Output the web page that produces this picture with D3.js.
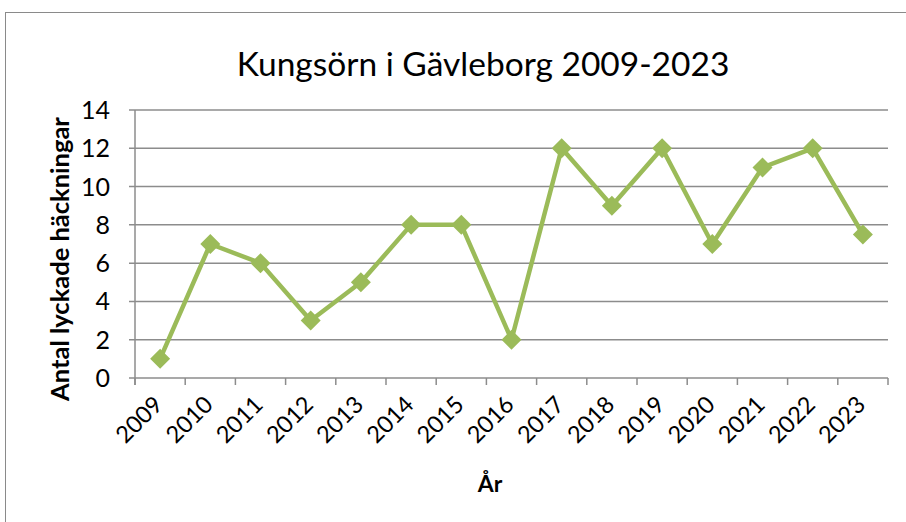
<!DOCTYPE html>
<html>
<head>
  <meta charset="utf-8">
  <title>Kungsörn i Gävleborg</title>
  <style>
    body { margin: 0; background: #fff; }
    text { font-family: Lato, "Open Sans", sans-serif; fill: #000; }
  </style>
</head>
<body>
  <svg width="906" height="522"></svg>
  <script src="https://cdn.jsdelivr.net/npm/d3@7/dist/d3.min.js"></script>
  <script>
  // data
  var years = ["2009","2010","2011","2012","2013","2014","2015","2016","2017","2018","2019","2020","2021","2022","2023"];
  var counts = [1, 7, 6, 3, 5, 8, 8, 2, 12, 9, 12, 7, 11, 12, 7.5];
  var yTicks = [0, 2, 4, 6, 8, 10, 12, 14];

  var svg = d3.select("svg");

  // frame
  svg.append("rect")
    .attr("x", 5.5).attr("y", 12.5)
    .attr("width", 940).attr("height", 540)
    .attr("fill", "none")
    .attr("stroke", "#8a8a8a")
    .attr("stroke-width", 1);

  var plotL = 135, plotR = 888, plotT = 110, plotB = 378;

  var x = d3.scaleBand().domain(years).range([plotL, plotR]);
  var y = d3.scaleLinear().domain([0, 14]).range([plotB, plotT]);

  // grid
  svg.append("g")
    .selectAll("line")
    .data(yTicks)
    .enter()
    .append("line")
    .attr("x1", plotL - 6).attr("x2", plotR)
    .attr("y1", function(d) { return y(d); })
    .attr("y2", function(d) { return y(d); })
    .attr("stroke", "#8c8c8c")
    .attr("stroke-width", 1.5);

  // y axis line
  svg.append("line")
    .attr("x1", plotL).attr("x2", plotL)
    .attr("y1", plotT).attr("y2", plotB + 7)
    .attr("stroke", "#8c8c8c").attr("stroke-width", 1.5);

  // x ticks at band edges
  var edges = years.map(function(d) { return x(d); }).concat([plotR]);
  svg.append("g")
    .selectAll("line")
    .data(edges)
    .enter()
    .append("line")
    .attr("x1", function(d) { return d; })
    .attr("x2", function(d) { return d; })
    .attr("y1", plotB).attr("y2", plotB + 7)
    .attr("stroke", "#8c8c8c").attr("stroke-width", 1.5);

  // y tick labels
  svg.append("g")
    .selectAll("text")
    .data(yTicks)
    .enter()
    .append("text")
    .attr("x", 110)
    .attr("y", function(d) { return y(d) + 9; })
    .attr("text-anchor", "end")
    .style("font-size", "25px")
    .text(function(d) { return d; });

  // x tick labels
  svg.append("g")
    .selectAll("text")
    .data(years)
    .enter()
    .append("text")
    .attr("transform", function(d) {
      return "translate(" + (x(d) + x.bandwidth() / 2 + 4) + "," + 406 + ") rotate(-45)";
    })
    .attr("text-anchor", "end")
    .style("font-size", "23.5px")
    .text(function(d) { return d; });

  // line
  var line = d3.line()
    .x(function(d, i) { return x(years[i]) + x.bandwidth() / 2; })
    .y(function(d) { return y(d); });

  svg.append("path")
    .datum(counts)
    .attr("d", line)
    .attr("fill", "none")
    .attr("stroke", "#9bbb59")
    .attr("stroke-width", 4.5)
    .attr("stroke-linejoin", "round");

  svg.append("g")
    .selectAll("path")
    .data(counts)
    .enter()
    .append("path")
    .attr("d", d3.symbol().type(d3.symbolSquare).size(200))
    .attr("transform", function(d, i) {
      return "translate(" + (x(years[i]) + x.bandwidth() / 2) + "," + y(d) + ") rotate(45)";
    })
    .attr("fill", "#9bbb59");

  // title
  svg.append("text")
    .attr("x", 483).attr("y", 76)
    .attr("text-anchor", "middle")
    .style("font-size", "33.5px")
    .text("Kungsörn i Gävleborg 2009-2023");

  // axis titles
  svg.append("text")
    .attr("transform", "translate(69,259) rotate(-90)")
    .attr("text-anchor", "middle")
    .style("font-size", "25.5px")
    .style("font-weight", "bold")
    .text("Antal lyckade häckningar");

  svg.append("text")
    .attr("x", 490).attr("y", 492)
    .attr("text-anchor", "middle")
    .style("font-size", "23px")
    .style("font-weight", "bold")
    .text("År");
  </script>
</body>
</html>
